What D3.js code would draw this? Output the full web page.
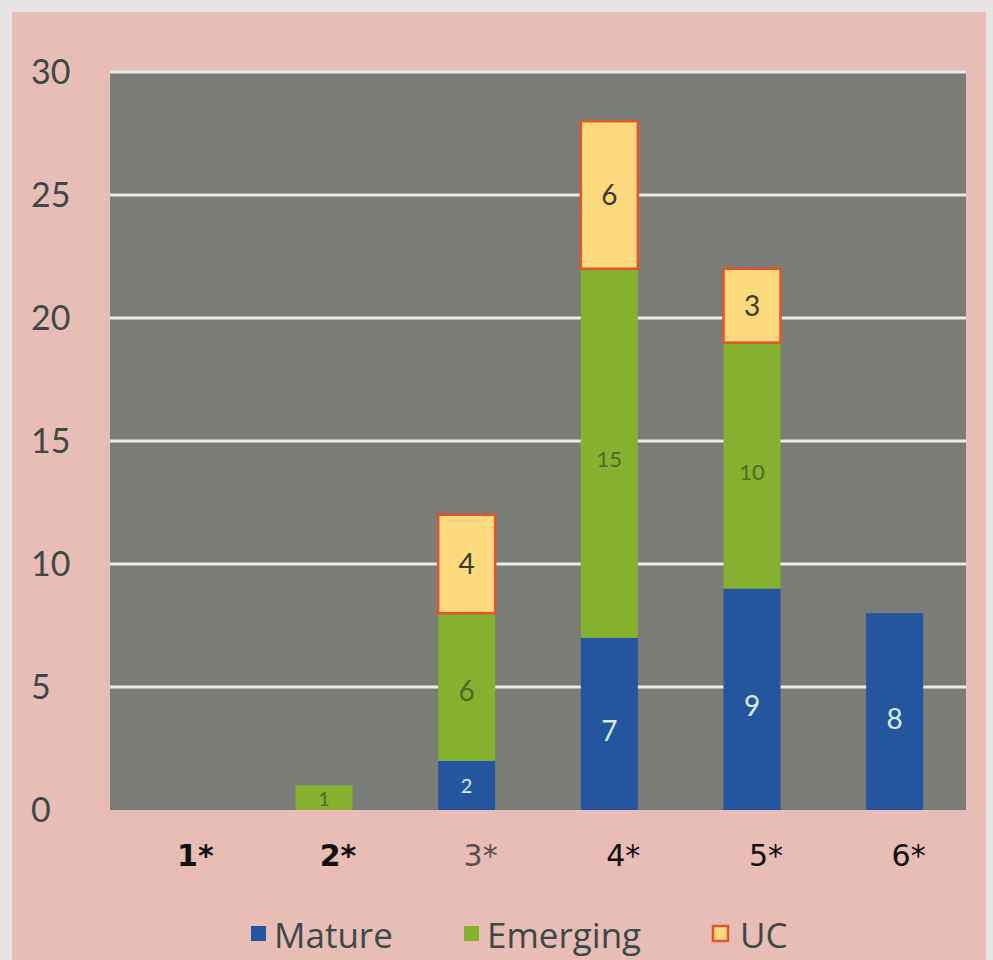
<!DOCTYPE html>
<html>
<head>
<meta charset="utf-8">
<script src="https://cdn.jsdelivr.net/npm/d3@7"></script>
<style>
  body { margin: 0; background: #e6e4e4; }
</style>
</head>
<body>
<script>
// Chart data
var categories = ["1*", "2*", "3*", "4*", "5*", "6*"];
var mature = [0, 0, 2, 7, 9, 8];
var emerging = [0, 1, 6, 15, 10, 0];
var uc = [0, 0, 4, 6, 3, 0];
var yTicks = [0, 5, 10, 15, 20, 25, 30];
var seriesNames = ["Mature", "Emerging", "UC"];

var width = 993;
var height = 960;
var plot = {left: 110, right: 966, top: 72, bottom: 810};

var svg = d3.select("body")
	.append("svg")
	.attr("width", width)
	.attr("height", height);

// pink page with light border
svg.append("rect")
	.attr("x", 12).attr("y", 12)
	.attr("width", 974).attr("height", 948)
	.attr("fill", "#e8bdb5");

var x = d3.scaleBand()
	.domain(categories)
	.range([plot.left, plot.right])
	.paddingInner(0.6)
	.paddingOuter(0.3);

var y = d3.scaleLinear()
	.domain([0, 30])
	.range([plot.bottom, plot.top]);

// gray plot area
svg.append("rect")
	.attr("x", plot.left).attr("y", plot.top)
	.attr("width", plot.right - plot.left)
	.attr("height", plot.bottom - plot.top)
	.attr("fill", "#7a7d77");

// grid lines
svg.selectAll("line.grid")
	.data(yTicks.filter(d => d > 0))
	.enter()
	.append("line")
	.attr("class", "grid")
	.attr("x1", plot.left).attr("x2", plot.right)
	.attr("y1", d => y(d)).attr("y2", d => y(d))
	.attr("stroke", "#ecebe4")
	.attr("stroke-width", 3);

// y tick labels
svg.selectAll("text.ytick")
	.data(yTicks)
	.enter()
	.append("text")
	.attr("class", "ytick")
	.text(d => d)
	.attr("x", 31)
	.attr("y", d => y(d) + 12)
	.attr("font-family", "Lato, sans-serif")
	.attr("font-size", "34px")
	.attr("fill", "#3d4848");

// stack the series
var rows = categories.map((c, i) => ({cat: c, Mature: mature[i], Emerging: emerging[i], UC: uc[i]}));
var stacked = d3.stack().keys(seriesNames)(rows);

var fills = {Mature: "#2456a0", Emerging: "#86b12f", UC: "#fcd97c"};
var strokes = {Mature: "none", Emerging: "none", UC: "#e0552f"};
var labelColors = {Mature: "#d6ece4", Emerging: "#4d6a2a", UC: "#3a3a30"};
var labelShift = {Mature: 17, Emerging: 14, UC: 10};

var band = x.bandwidth();
var barW = 57;

stacked.forEach(function(s) {
	var g = svg.append("g");
	g.selectAll("rect")
		.data(s.filter(d => d[1] - d[0] > 0))
		.enter()
		.append("rect")
		.attr("x", d => x(d.data.cat) + band / 2 - barW / 2)
		.attr("y", d => y(d[1]))
		.attr("width", barW)
		.attr("height", d => y(d[0]) - y(d[1]))
		.attr("fill", fills[s.key])
		.attr("stroke", strokes[s.key])
		.attr("stroke-width", 2.5);

	g.selectAll("text")
		.data(s.filter(d => d[1] - d[0] > 0))
		.enter()
		.append("text")
		.text(d => d[1] - d[0])
		.attr("x", d => x(d.data.cat) + band / 2)
		.attr("y", function(d) {
			var v = d[1] - d[0];
			if (v <= 2) return (y(d[0]) + y(d[1])) / 2 + 8;
			return (y(d[0]) + y(d[1])) / 2 + labelShift[s.key];
		})
		.attr("text-anchor", "middle")
		.attr("font-family", "Lato, sans-serif")
		.attr("font-size", d => (d[1] - d[0] >= 10 ? "22px" : (d[1] - d[0] <= 2 ? "20px" : "28px")))
		.attr("fill", labelColors[s.key]);
});

// x labels
svg.selectAll("text.xtick")
	.data(categories)
	.enter()
	.append("text")
	.attr("class", "xtick")
	.text(d => d)
	.attr("x", d => x(d) + band / 2 + 14)
	.attr("y", 866)
	.attr("text-anchor", "middle")
	.attr("font-family", "DejaVu Sans, sans-serif")
	.attr("font-size", "30px")
	.attr("font-weight", (d, i) => i < 2 ? "bold" : "normal")
	.attr("fill", (d, i) => i == 2 ? "#5a5050" : "#111");

// legend
var legend = [
	{name: "Mature", sx: 251, tx: 274},
	{name: "Emerging", sx: 464, tx: 487},
	{name: "UC", sx: 713, tx: 740}
];
svg.selectAll("rect.leg")
	.data(legend)
	.enter()
	.append("rect")
	.attr("class", "leg")
	.attr("x", d => d.sx)
	.attr("y", 926)
	.attr("width", 15)
	.attr("height", 15)
	.attr("fill", d => fills[d.name])
	.attr("stroke", d => strokes[d.name])
	.attr("stroke-width", 2.5);

svg.selectAll("text.leg")
	.data(legend)
	.enter()
	.append("text")
	.attr("class", "leg")
	.text(d => d.name)
	.attr("x", d => d.tx)
	.attr("y", 948)
	.attr("font-family", "Open Sans, sans-serif")
	.attr("font-size", "35px")
	.attr("fill", "#3d4848");
</script>
</body>
</html>
